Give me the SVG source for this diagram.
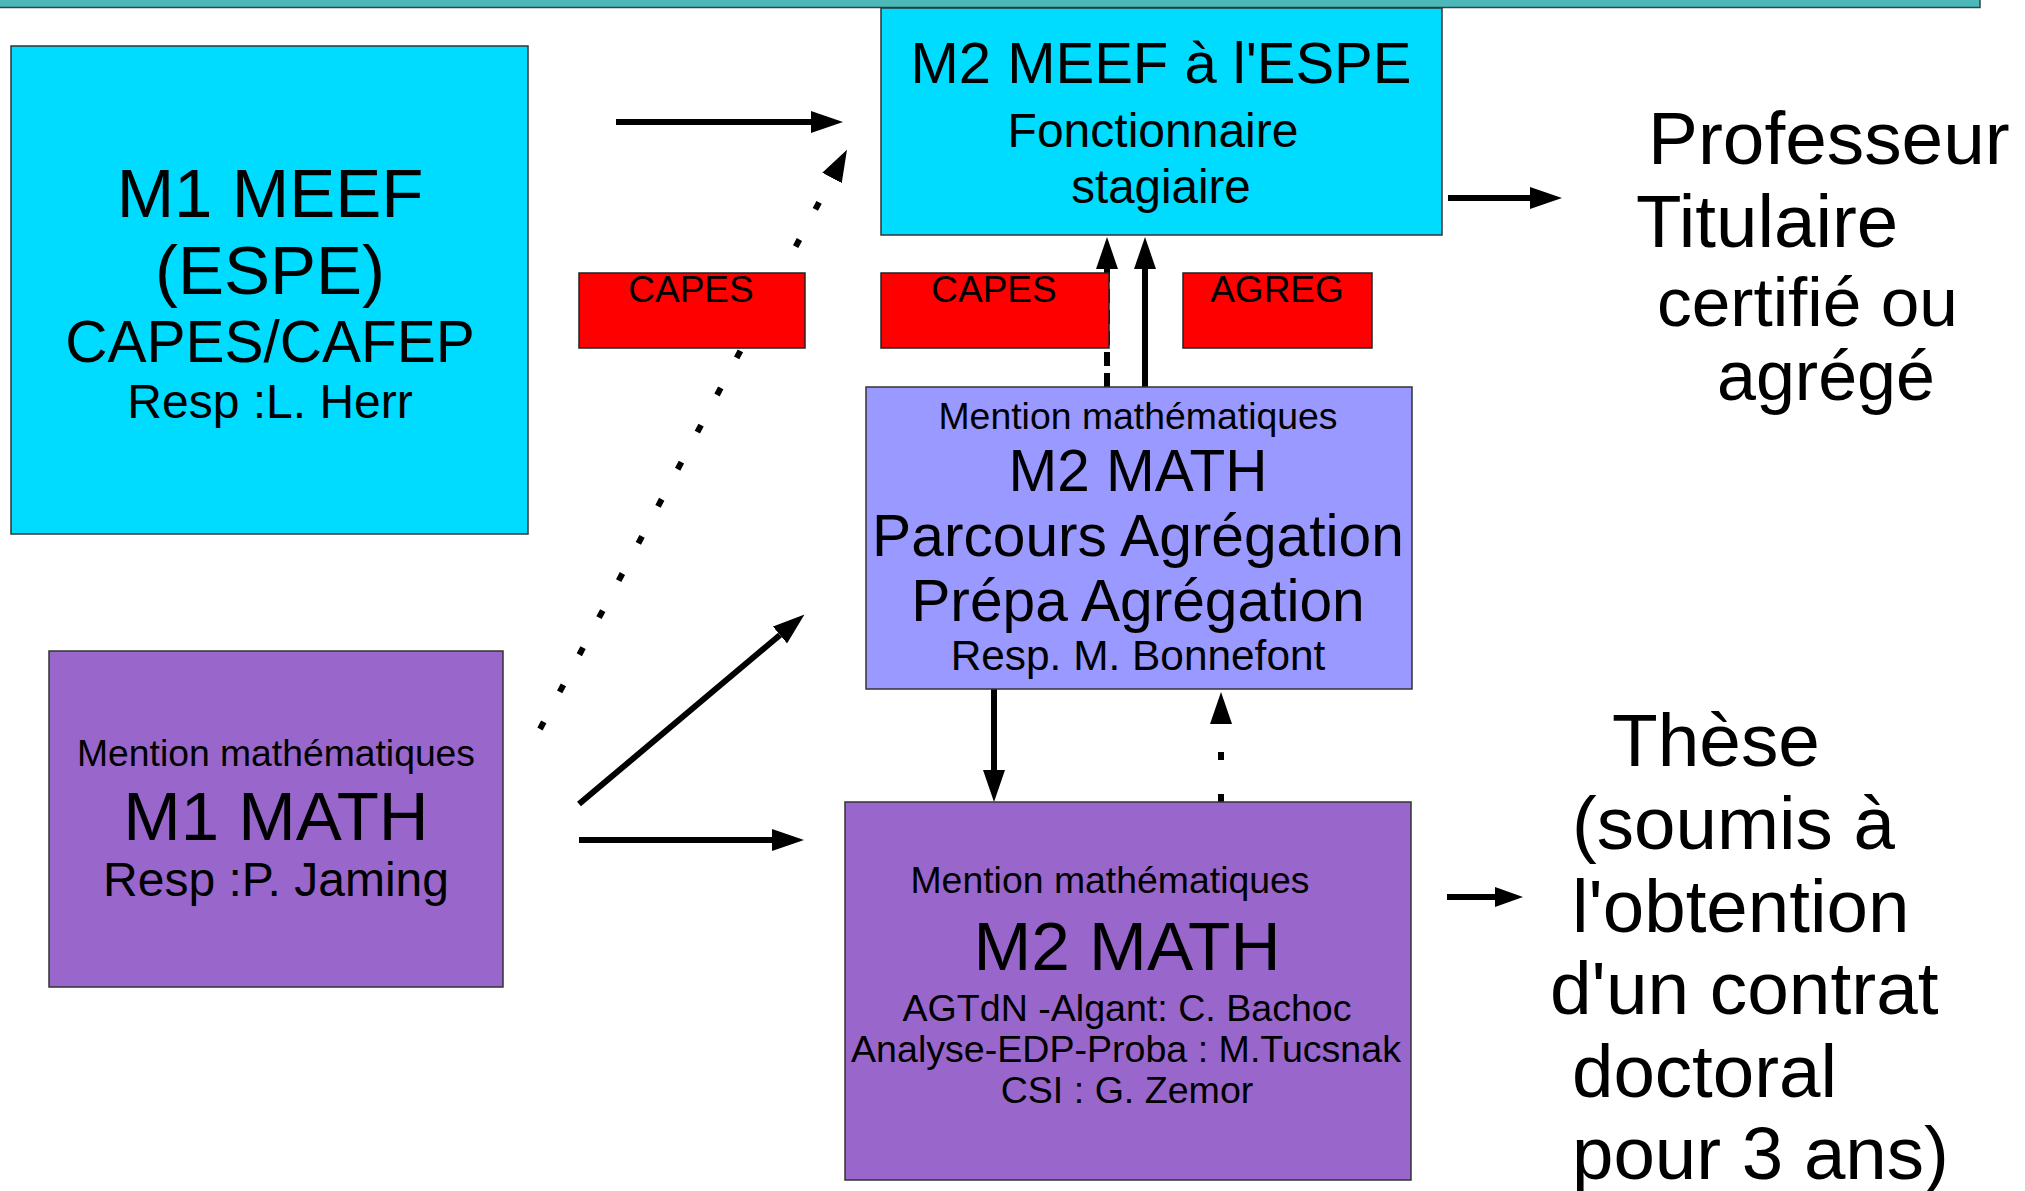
<svg xmlns="http://www.w3.org/2000/svg" width="2025" height="1191" viewBox="0 0 2025 1191">
<defs>
<style>
text{font-family:"Liberation Sans",Arial,sans-serif;fill:#000}
.c{text-anchor:middle}
.box{stroke:#333;stroke-width:1.5}
.cyan{fill:#00DCFF}
.purple{fill:#9966CC}
.lav{fill:#9999FF}
.red{fill:#FF0000;stroke:#222;stroke-width:1.5}
.ln{stroke:#000;stroke-width:6;fill:none}
.dot{stroke-dasharray:8 34}
.dash{stroke-dasharray:14 7}
</style>
<marker id="ah" markerUnits="userSpaceOnUse" markerWidth="32" markerHeight="22" refX="0" refY="11" orient="auto">
<path d="M0,0 L32,11 L0,22 z" fill="#000"/>
</marker>
<marker id="ahs" markerUnits="userSpaceOnUse" markerWidth="28" markerHeight="20" refX="0" refY="10" orient="auto">
<path d="M0,0 L28,10 L0,20 z" fill="#000"/>
</marker>
</defs>
<rect x="-2" y="-2" width="1982" height="9.5" fill="#4DB8B8" stroke="#2a4a4a" stroke-width="1.5"/>
<g id="connectors">
<line class="ln dot" x1="540" y1="729" x2="832" y2="178" marker-end="url(#ah)"/>
<line class="ln" x1="616" y1="122" x2="811" y2="122" marker-end="url(#ah)"/>
<line class="ln" x1="579" y1="804" x2="780" y2="635" marker-end="url(#ah)"/>
<line class="ln" x1="579" y1="840" x2="772" y2="840" marker-end="url(#ah)"/>
<line class="ln dash" x1="1107" y1="387" x2="1107" y2="269" marker-end="url(#ah)"/>
<line class="ln" x1="1145" y1="387" x2="1145" y2="269" marker-end="url(#ah)"/>
<line class="ln" x1="994" y1="689" x2="994" y2="770" marker-end="url(#ah)"/>
<line class="ln dot" x1="1221" y1="802" x2="1221" y2="724" marker-end="url(#ah)"/>
<line class="ln" x1="1448" y1="198" x2="1530" y2="198" marker-end="url(#ah)"/>
<line class="ln" x1="1447" y1="897" x2="1495" y2="897" marker-end="url(#ahs)"/>
</g>
<g id="m1meef">
<rect class="box cyan" x="11" y="46" width="517" height="488"/>
<text class="c" x="270" y="217" font-size="69">M1 MEEF</text>
<text class="c" x="270" y="294" font-size="69">(ESPE)</text>
<text class="c" x="270" y="362" font-size="58.5">CAPES/CAFEP</text>
<text class="c" x="270" y="418" font-size="48">Resp :L. Herr</text>
</g>
<g id="m2meef">
<rect class="box cyan" x="881" y="8" width="561" height="227"/>
<text class="c" x="1161" y="83" font-size="58">M2 MEEF à l'ESPE</text>
<text class="c" x="1153" y="147" font-size="48">Fonctionnaire</text>
<text class="c" x="1161" y="203" font-size="47.5">stagiaire</text>
</g>
<g id="capes1">
<rect class="red" x="579" y="273" width="226" height="75"/>
<text class="c" x="691" y="302" font-size="37">CAPES</text>
</g>
<g id="capes2">
<rect class="red" x="881" y="273" width="228" height="75"/>
<text class="c" x="994" y="302" font-size="37">CAPES</text>
</g>
<g id="agreg">
<rect class="red" x="1183" y="273" width="189" height="75"/>
<text class="c" x="1277" y="302" font-size="37">AGREG</text>
</g>
<g id="m2agreg">
<rect class="box lav" x="866" y="387" width="546" height="302"/>
<text class="c" x="1138" y="429" font-size="37.4">Mention mathématiques</text>
<text class="c" x="1138" y="491" font-size="58.5">M2 MATH</text>
<text class="c" x="1138" y="556" font-size="58.7">Parcours Agrégation</text>
<text class="c" x="1138" y="621" font-size="58.7">Prépa Agrégation</text>
<text class="c" x="1138" y="670" font-size="42.4">Resp. M. Bonnefont</text>
</g>
<g id="m1math">
<rect class="box purple" x="49" y="651" width="454" height="336"/>
<text class="c" x="276" y="766" font-size="37.3">Mention mathématiques</text>
<text class="c" x="276" y="840" font-size="69">M1 MATH</text>
<text class="c" x="276" y="896" font-size="48">Resp :P. Jaming</text>
</g>
<g id="m2math">
<rect class="box purple" x="845" y="802" width="566" height="378"/>
<text class="c" x="1110" y="893" font-size="37.4">Mention mathématiques</text>
<text class="c" x="1127" y="970" font-size="69.4">M2 MATH</text>
<text class="c" x="1127" y="1021" font-size="37.6">AGTdN -Algant: C. Bachoc</text>
<text class="c" x="1126" y="1062" font-size="37.6">Analyse-EDP-Proba : M.Tucsnak</text>
<text class="c" x="1127" y="1103" font-size="37.6">CSI : G. Zemor</text>
</g>
<g id="professeur">
<text x="1648" y="164" font-size="74.8">Professeur</text>
<text x="1636" y="247" font-size="74.5">Titulaire</text>
<text x="1657" y="326" font-size="69.4">certifié ou</text>
<text x="1717" y="400" font-size="70">agrégé</text>
</g>
<g id="these">
<text x="1612" y="766" font-size="74.8">Thèse</text>
<text x="1572" y="849" font-size="74.5">(soumis à</text>
<text x="1572" y="932" font-size="74.5">l'obtention</text>
<text x="1550" y="1014" font-size="74.8">d'un contrat</text>
<text x="1572" y="1097" font-size="74.5">doctoral</text>
<text x="1572" y="1179" font-size="74.5">pour 3 ans)</text>
</g>
</svg>
